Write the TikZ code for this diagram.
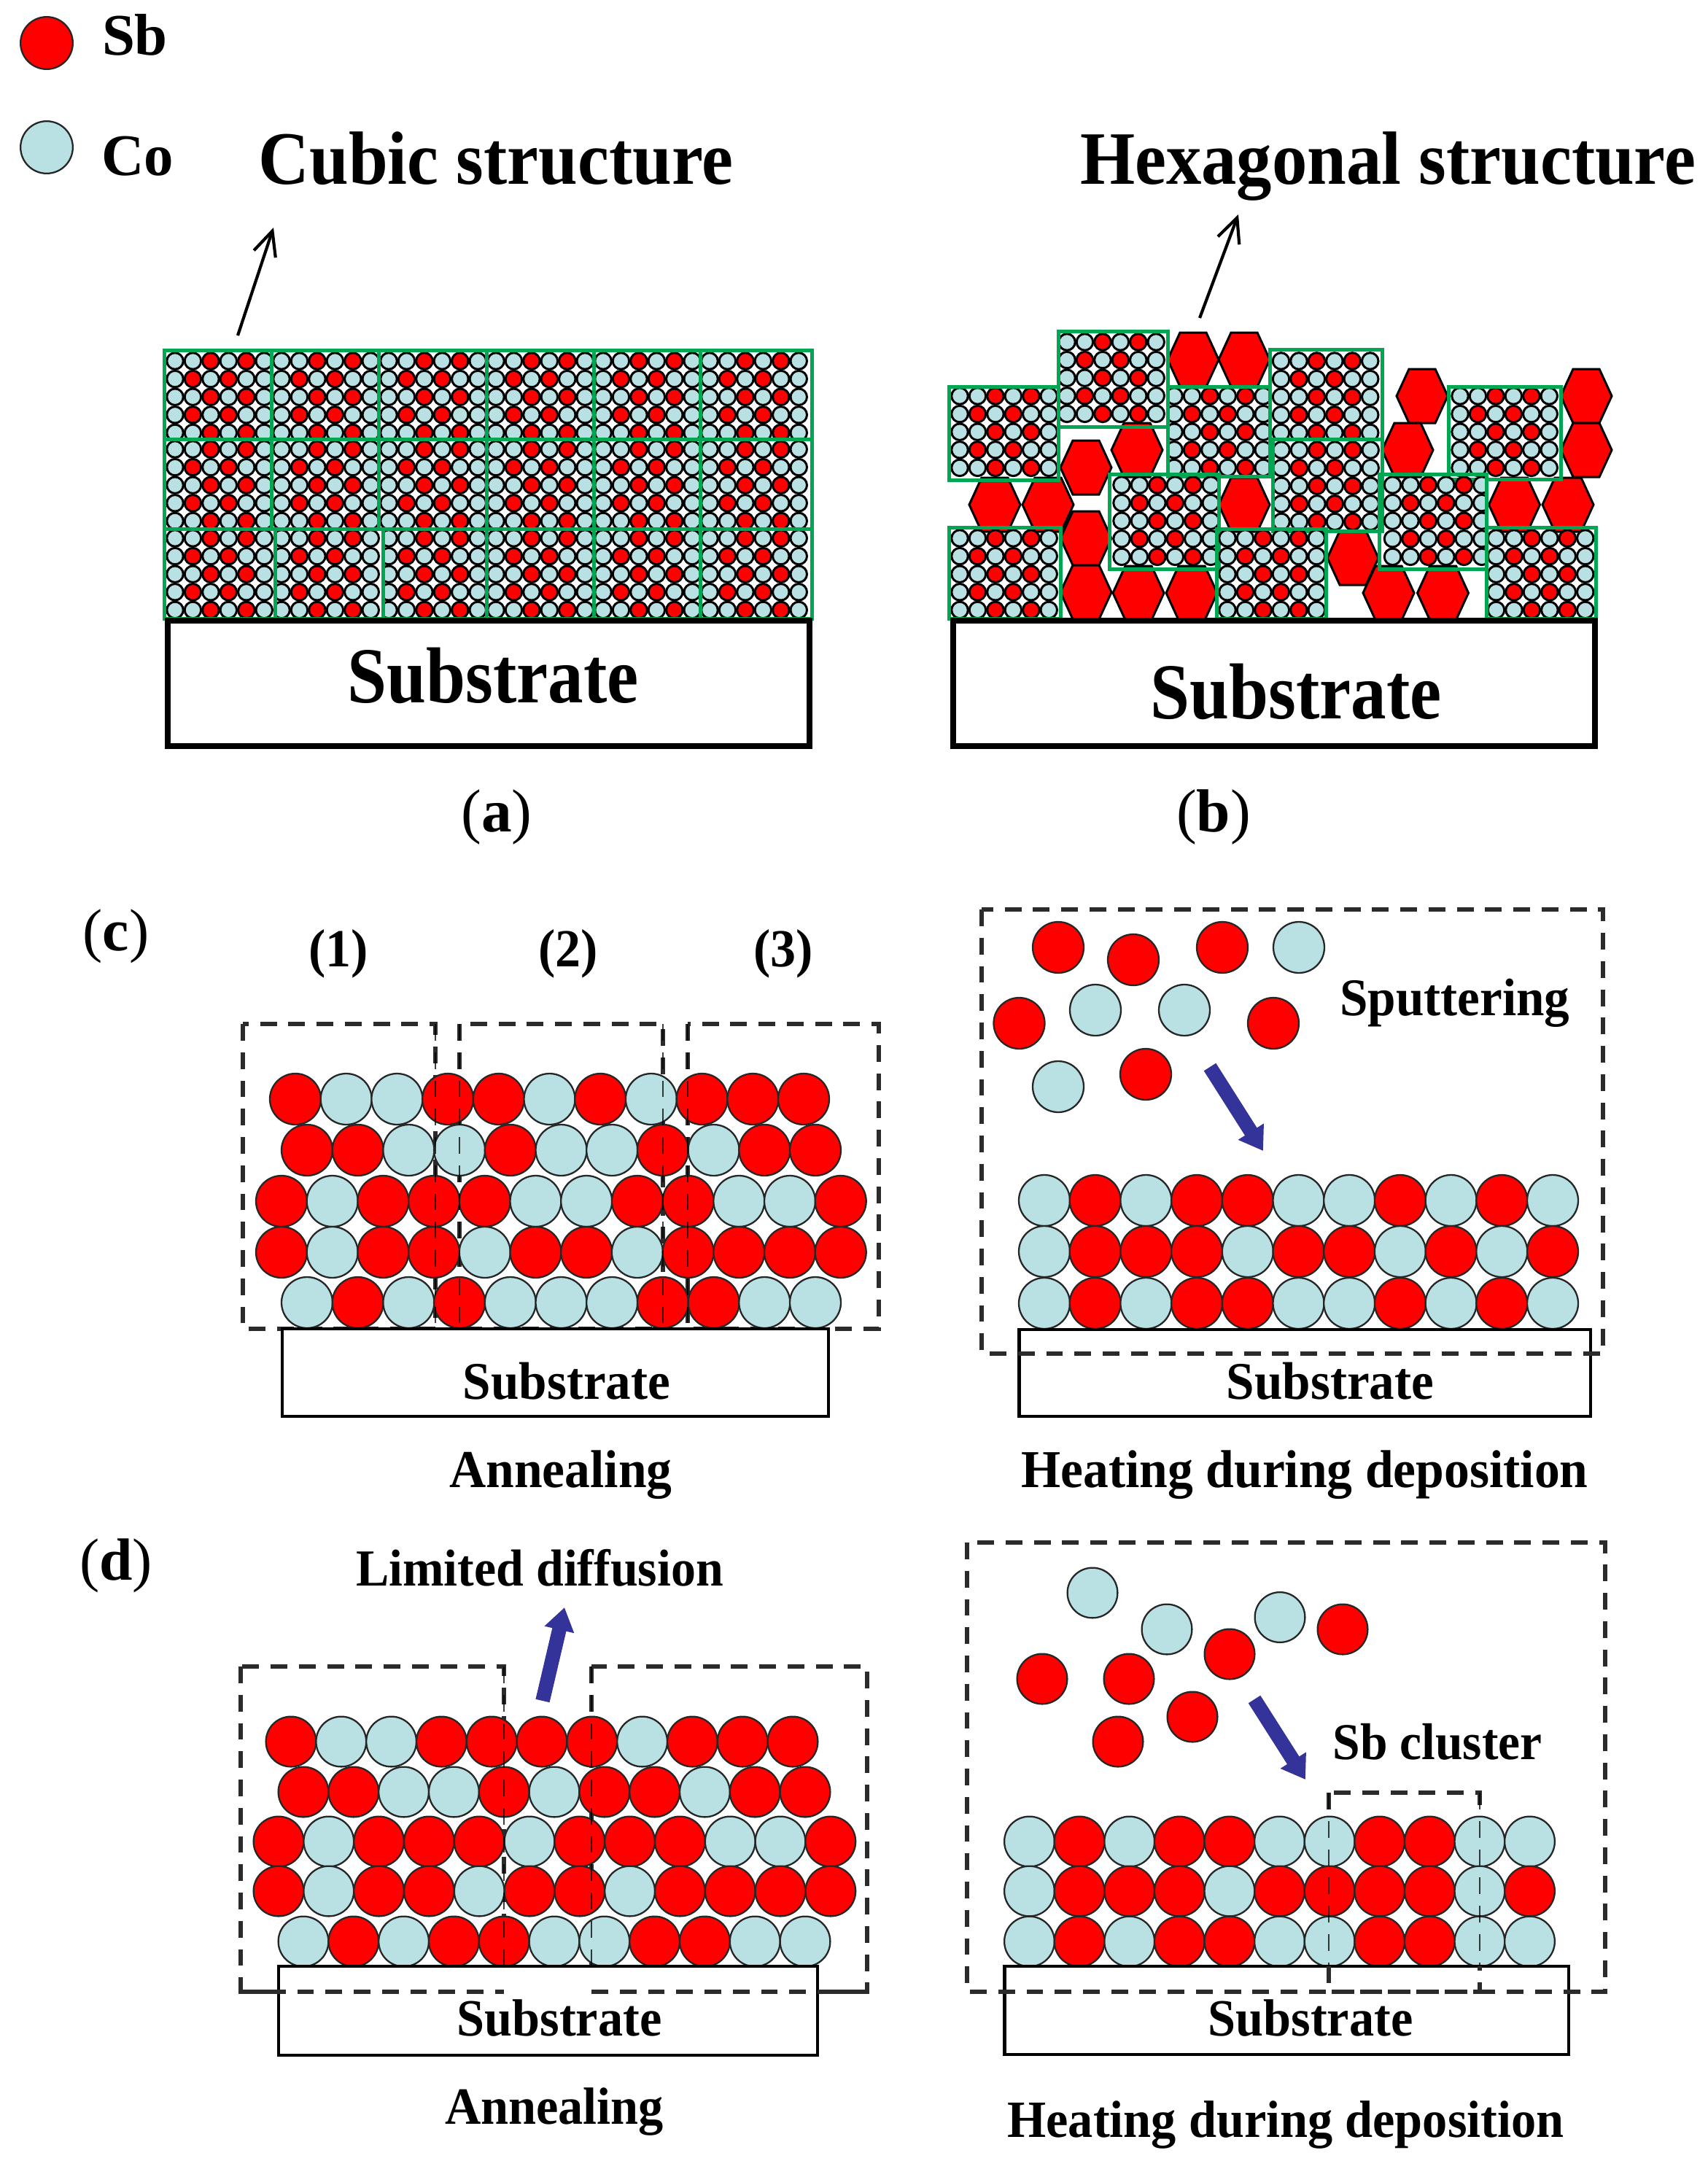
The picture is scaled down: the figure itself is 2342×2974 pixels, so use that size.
\documentclass[tikz,border=0pt]{standalone}
\usepackage{fontspec}
\usepackage{graphicx}
\setmainfont{Liberation Serif}
\usetikzlibrary{arrows.meta}
\definecolor{sbred}{HTML}{FF0000}
\definecolor{coblue}{HTML}{B9E1E4}
\definecolor{cellgreen}{HTML}{00A651}
\definecolor{arrowblue}{HTML}{333399}
\definecolor{dashgray}{HTML}{2B2B2B}
\tikzset{
  atomb/.style={circle,draw=black!85,line width=0.55pt,inner sep=0pt},
  aR/.style={fill=sbred},
  aC/.style={fill=coblue},
  bigatom/.style={minimum size=16.8pt},
  midatom/.style={minimum size=16.5pt},
  smallatom/.style={draw=black,line width=0.72pt},
  cellframe/.style={draw=cellgreen,line width=1.2pt},
  hexa/.style={draw=black,fill=sbred,line width=0.72pt,line join=miter},
  substrate/.style={draw=black,fill=white,line width=1.05pt,outer sep=0pt,inner sep=0pt,anchor=north west},
  substratethick/.style={draw=black,fill=white,line width=1.8pt,outer sep=0pt,inner sep=0pt,anchor=north west},
  dashbox/.style={draw=dashgray,line width=1.35pt,dash pattern=on 5.5pt off 3.8pt},
  dashthin/.style={draw=black,line width=0.55pt,dash pattern=on 5.5pt off 3.8pt,opacity=0.75},
  blockarrow/.style={draw=arrowblue,line width=4.7pt,-{Triangle[length=7.5pt,width=9.5pt]}},
  thinarrow/.style={draw=black,line width=1pt,-{Straight Barb[length=8pt,width=7.5pt]}},
  lbl/.style={inner sep=0pt,anchor=base,text=black},
}
\newcommand{\tx}[3]{{\fontsize{#1pt}{#1pt}\selectfont\bfseries\scalebox{1}[#2]{#3}}}
% one row of atoms: name, x0, y, pitch, size style, colours
\newcommand{\atomrow}[6]{%
  \foreach \c [count=\i from 0] in {#6}{\node[atomb,#5,a\c] (#1-\i) at ({#2+\i*#4},#3) {};}}
% one unit cell: x0,y0,w,h,dx,dy
\newcommand{\unitcell}[6]{%
  \begin{scope}
    \clip (#1,#2) rectangle ++(#3,#4);
    \foreach \j in {0,...,4}{
      \foreach \k in {0,...,5}{
        \pgfmathparse{(mod(\j,2)==0 && (\k==2||\k==4)) || (mod(\j,2)==1 && (\k==1||\k==3)) ? 1 : 0}
        \ifnum\pgfmathresult>0
          \draw[smallatom,fill=sbred] ({#1+#5+\k*24.45},{#2+#6+\j*24.6}) circle (2.7pt);
        \else
          \draw[smallatom,fill=coblue] ({#1+#5+\k*24.45},{#2+#6+\j*24.6}) circle (2.7pt);
        \fi
      }
    }
  \end{scope}
  \draw[cellframe] (#1,#2) rectangle ++(#3,#4);}
\newcommand{\hexat}[2]{%
  \path[hexa,shift={(#1,#2)}] (-35,0)--(-18,-37)--(18,-37)--(35,0)--(18,37)--(-18,37)--cycle;}
\begin{document}
\begin{tikzpicture}[x=0.24pt,y=-0.24pt]
\useasboundingbox (0,0) rectangle (2342,2974);

% legend
\node[atomb,minimum size=17.2pt,aR] (legsb) at (64,59) {};
\node[atomb,minimum size=17.2pt,aC] (legco) at (64,202) {};
\node[lbl] (tsb) at (185,76) {\tx{19.4}{1}{Sb}};
\node[lbl] (tco) at (189,240) {\tx{19.4}{1}{Co}};

% headings
\node[lbl] (tcubic) at (680,252) {\tx{23.2}{1.07}{Cubic structure}};
\node[lbl] (thex) at (1903,252) {\tx{23.2}{1.07}{Hexagonal structure}};

% panel a
\foreach \rowy/\rowh/\rowd in {480/122/15,602/123/14}{
  \foreach \xx/\ww/\dd in {225/147/15,372/147/14,519/148/14,667/147/13,814/146/13,960/153/13}{
    \unitcell{\xx}{\rowy}{\ww}{\rowh}{\dd}{\rowd}
  }
}
\foreach \xx/\ww/\dd in {225/152/15,377/148/9,525/142/8,667/147/13,814/146/13,960/153/13}{
  \unitcell{\xx}{725}{\ww}{123}{\dd}{13}
}
\node[substratethick,minimum width=211.2pt,minimum height=41.3pt] (suba) at (230,851) {};
\node[lbl] (tsuba) at (676,963) {\tx{23.3}{1.12}{Substrate}};
\node[lbl] (la) at (681,1140) {\fontsize{20pt}{20pt}\selectfont (\textbf{a})};
\coordinate (afoot) at (326,460);
\coordinate (ahead) at (375,312);
\draw[thinarrow] (afoot) -- (ahead);

% panel b: hexagons
\hexat{1636}{493}\hexat{1706}{493}
\hexat{1489}{641}\hexat{1559}{617}
\hexat{1950}{543}\hexat{1930}{617}
\hexat{2175}{543}\hexat{2175}{617}
\hexat{1364}{692}\hexat{1437}{692}
\hexat{1489}{738}\hexat{1489}{812}
\hexat{1561}{813}\hexat{1634}{813}
\hexat{1706}{692}
\hexat{1855}{765}\hexat{1904}{813}\hexat{1978.5}{813}
\hexat{2076.5}{692}\hexat{2150}{692}
% panel b: cells
\unitcell{1451}{454}{150}{131}{12}{15}
\unitcell{1301}{530}{150}{128}{15}{13}
\unitcell{1601}{530}{140.5}{123}{9}{13}
\unitcell{1741.5}{479}{153.5}{123}{15}{16}
\unitcell{1745}{602}{150}{126}{12}{15}
\unitcell{1986}{530}{154}{127}{16}{13}
\unitcell{1521}{650}{150}{130}{17}{15}
\unitcell{1891.5}{650}{147}{130}{18}{15}
\unitcell{1301}{723}{153}{125}{15}{15}
\unitcell{1668}{725}{150}{123}{15}{13}
\unitcell{2038.5}{723}{150}{125}{13}{15}
\node[substratethick,minimum width=211.2pt,minimum height=41.3pt] (subb) at (1307,851) {};
\node[lbl] (tsubb) at (1777,985) {\tx{23.3}{1.12}{Substrate}};
\node[lbl] (lb) at (1664,1140) {\fontsize{20pt}{20pt}\selectfont (\textbf{b})};
\coordinate (bfoot) at (1645,436);
\coordinate (bhead) at (1698,294);
\draw[thinarrow] (bfoot) -- (bhead);

% panel c left
\node[lbl] (lc) at (159,1303) {\fontsize{19.6pt}{19.6pt}\selectfont (\textbf{c})};
\node[lbl] (n1) at (464,1325) {\tx{16.8}{1.05}{(1)}};
\node[lbl] (n2) at (779,1325) {\tx{16.8}{1.05}{(2)}};
\node[lbl] (n3) at (1074,1325) {\tx{16.8}{1.05}{(3)}};
\draw[dashbox] (333,1404) rectangle (597,1822);
\draw[dashbox] (630,1404) rectangle (909,1822);
\draw[dashbox] (943,1404) rectangle (1205,1822);
\atomrow{cla}{405}{1507}{69.7}{bigatom}{R,C,C,R,R,C,R,C,R,R,R}
\atomrow{clb}{421}{1577}{69.7}{bigatom}{R,R,C,C,R,C,C,R,C,R,R}
\atomrow{clc}{386}{1647}{69.7}{bigatom}{R,C,R,R,R,C,C,R,R,C,C,R}
\atomrow{cld}{386}{1717}{69.7}{bigatom}{R,C,R,R,C,R,R,C,R,R,R,R}
\atomrow{cle}{421}{1786}{69.7}{bigatom}{C,R,C,R,C,C,C,R,R,C,C}
\draw[dashthin] (597,1404) -- (597,1822);
\draw[dashthin] (630,1404) -- (630,1822);
\draw[dashthin] (909,1404) -- (909,1822);
\draw[dashthin] (943,1404) -- (943,1822);
\node[substrate,minimum width=179.8pt,minimum height=28.8pt] (subcl) at (387,1822) {};
\node[lbl] (tsubcl) at (777,1918) {\tx{16.6}{1.05}{Substrate}};
\node[lbl] (tancl) at (769,2039) {\tx{16.7}{1.05}{Annealing}};

% panel c right
\foreach \nm/\st/\xx/\yy in {f1/aR/1451/1299,f2/aR/1554/1316,f3/aR/1676/1299,f4/aC/1781/1299,f5/aC/1502/1385,f6/aC/1624/1385,f7/aR/1397.5/1403,f8/aR/1746/1403,f9/aR/1571/1473,f10/aC/1451/1490}{
  \node[atomb,bigatom,\st] (cr\nm) at (\xx,\yy) {};
}
\atomrow{cra}{1432}{1646}{69.7}{bigatom}{C,R,C,R,R,C,C,R,C,R,C}
\atomrow{crb}{1432}{1716}{69.7}{bigatom}{C,R,R,R,C,R,R,C,R,C,R}
\atomrow{crc}{1432}{1787}{69.7}{bigatom}{C,R,C,R,R,C,C,R,C,R,C}
\node[substrate,minimum width=188pt,minimum height=28.6pt] (subcr) at (1397.5,1823) {};
\draw[dashbox] (1346,1247) rectangle (2198,1856);
\node[lbl] (tsput) at (1995,1392) {\tx{16.6}{1.05}{Sputtering}};
\node[lbl] (tsubcr) at (1824,1918) {\tx{16.6}{1.05}{Substrate}};
\node[lbl] (theatc) at (1789,2039) {\tx{16.7}{1.05}{Heating during deposition}};
\coordinate (crfoot) at (1659,1463);
\coordinate (crhead) at (1732,1578);
\draw[blockarrow] (crfoot) -- (crhead);

% panel d left
\node[lbl] (ld) at (159,2166) {\fontsize{19.6pt}{19.6pt}\selectfont (\textbf{d})};
\node[lbl] (tlim) at (740,2174) {\tx{16.3}{1.05}{Limited diffusion}};
\draw[dashbox] (330,2285) rectangle (691,2731);
\draw[dashbox] (811,2285) rectangle (1189,2731);
\atomrow{dla}{399}{2388}{68.8}{midatom}{R,C,C,R,R,R,R,C,R,R,R}
\atomrow{dlb}{416}{2457}{68.8}{midatom}{R,R,C,C,R,C,R,R,C,R,R}
\atomrow{dlc}{382}{2525}{68.8}{midatom}{R,C,R,R,R,C,R,R,R,C,C,R}
\atomrow{dld}{382}{2593}{68.8}{midatom}{R,C,R,R,C,R,R,C,R,R,R,R}
\atomrow{dle}{416}{2662}{68.8}{midatom}{C,R,C,R,R,C,C,R,R,C,C}
\draw[dashthin] (691,2285) -- (691,2731);
\draw[dashthin] (811,2285) -- (811,2731);
\node[substrate,minimum width=177.4pt,minimum height=29.3pt] (subdl) at (382,2696) {};
\draw[dashbox] (330,2731) -- (691,2731);
\draw[dashbox] (811,2731) -- (1189,2731);
\node[lbl] (tsubdl) at (767,2791) {\tx{16.4}{1.05}{Substrate}};
\node[lbl] (tandl) at (760,2912) {\tx{16.4}{1.05}{Annealing}};
\coordinate (dlfoot) at (744,2332);
\coordinate (dlhead) at (774,2204);
\draw[blockarrow] (dlfoot) -- (dlhead);

% panel d right
\foreach \nm/\st/\xx/\yy in {f1/aC/1498/2184,f2/aC/1600/2234,f3/aC/1755/2217.5,f4/aR/1841/2234,f5/aR/1686/2268,f6/aR/1429/2302,f7/aR/1548/2302,f8/aR/1635/2354,f9/aR/1533/2388}{
  \node[atomb,midatom,\st] (dr\nm) at (\xx,\yy) {};
}
\draw[dashbox] (1822,2458) rectangle (2029,2731);
\atomrow{dra}{1411.5}{2525}{68.6}{midatom}{C,R,C,R,R,C,C,R,R,C,C}
\atomrow{drb}{1411.5}{2593}{68.6}{midatom}{C,R,R,R,C,R,R,R,R,C,R}
\atomrow{drc}{1411.5}{2662}{68.6}{midatom}{C,R,C,R,R,C,C,R,R,C,C}
\draw[dashthin] (1822,2458) -- (1822,2696);
\draw[dashthin] (2029,2458) -- (2029,2696);
\node[substrate,minimum width=185.6pt,minimum height=29pt] (subdr) at (1377.5,2696) {};
\draw[dashbox] (1326,2115) rectangle (2201,2731);
\draw[dashbox] (1822,2696) -- (1822,2731) -- (2029,2731) -- (2029,2696);
\node[lbl] (tsb2) at (1971,2412) {\tx{16.2}{1.05}{Sb cluster}};
\node[lbl] (tsubdr) at (1797,2791) {\tx{16.4}{1.05}{Substrate}};
\node[lbl] (theatd) at (1763,2930) {\tx{16.4}{1.05}{Heating during deposition}};
\coordinate (drfoot) at (1720,2330);
\coordinate (drhead) at (1790,2440);
\draw[blockarrow] (drfoot) -- (drhead);
\end{tikzpicture}
\end{document}
